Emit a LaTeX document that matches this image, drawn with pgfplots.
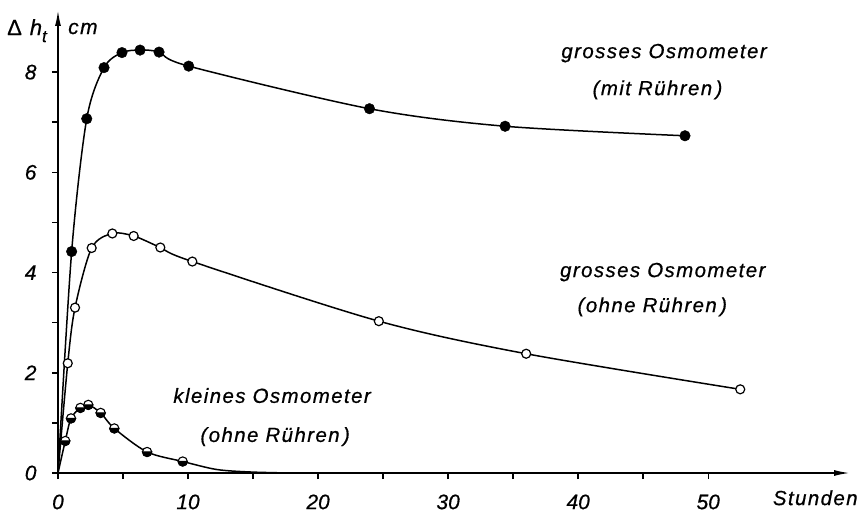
\documentclass[border=0pt]{standalone}
\usepackage{fontspec}
\setmainfont{Liberation Sans}
\newfontfamily\lab{Liberation Sans}[LetterSpace=7, FakeBold=0.6]
\newfontfamily\tickf{Liberation Sans}[FakeBold=0.6]
\usepackage{pgfplots}
\pgfplotsset{compat=1.18}
\usetikzlibrary{arrows.meta}
\pgfdeclareplotmark{lowhalf}{%
  \pgfpathcircle{\pgfpointorigin}{\pgfplotmarksize}%
  \pgfsetfillcolor{white}\pgfusepathqfillstroke
  \pgfpathmoveto{\pgfqpoint{\pgfplotmarksize}{0pt}}%
  \pgfpatharc{0}{-180}{\pgfplotmarksize}%
  \pgfpathclose
  \pgfsetfillcolor{black}\pgfusepathqfillstroke
}
\begin{document}
\begin{tikzpicture}
\begin{axis}[
  anchor=origin, at={(0,0)},
  scale only axis, width=792bp, height=463bp,
  xmin=0, xmax=60.9, ymin=0, ymax=9.24,
  axis lines=left,
  axis line style={line width=1.7bp, -{Latex[length=16bp,width=6bp]}},
  xtick={0,10,20,30,40,50}, ytick={0,2,4,6,8},
  minor xtick={5,15,25,35,45}, minor ytick={1,3,5,7},
  tick align=outside,
  major tick length=6bp, minor tick length=6bp,
  tick style={line width=1.5bp, black},
  /pgf/number format/assume math mode=true,
  ticklabel style={font=\fontsize{21}{21}\tickf\itshape},
  xticklabel style={yshift=-12bp},
  yticklabel style={xshift=-12bp},
  clip=false,
]
% grosses Osmometer (mit Ruehren)
\addplot[line width=1.5bp, smooth, tension=0.5] coordinates {
 (0,0) (1.05,4.42) (2.21,7.07) (3.54,8.09) (4.92,8.39) (6.31,8.44) (7.77,8.40)
 (10.05,8.12) (23.95,7.27) (34.38,6.92) (48.21,6.73)};
\addplot[only marks, mark=*, mark size=5.3bp, mark options={fill=black}] coordinates {
 (1.05,4.42) (2.21,7.07) (3.54,8.09) (4.92,8.39) (6.31,8.44) (7.77,8.40)
 (10.05,8.12) (23.95,7.27) (34.38,6.92) (48.21,6.73)};
% grosses Osmometer (ohne Ruehren)
\addplot[line width=1.5bp, smooth, tension=0.5] coordinates {
 (0,0) (0.75,2.19) (1.31,3.30) (2.59,4.49) (4.18,4.78) (5.82,4.73) (7.87,4.50)
 (10.33,4.22) (24.67,3.03) (36.0,2.38) (52.46,1.67)};
\addplot[only marks, mark=*, mark size=4.5bp, mark options={fill=white, line width=1.2bp}] coordinates {
 (0.75,2.19) (1.31,3.30) (2.59,4.49) (4.18,4.78) (5.82,4.73) (7.87,4.50)
 (10.33,4.22) (24.67,3.03) (36.0,2.38) (52.46,1.67)};
% kleines Osmometer (ohne Ruehren)
\addplot[line width=1.5bp, smooth, tension=0.5] coordinates {
 (0,0) (0.56,0.64) (1.0,1.09) (1.72,1.30) (2.33,1.36) (3.28,1.20) (4.33,0.89)
 (6.85,0.42) (9.59,0.23) (12.2,0.07) (14.8,0.02) (17.8,0)};
\addplot[only marks, mark=lowhalf, mark size=4.6bp, mark options={line width=1.1bp}] coordinates {
 (0.56,0.64) (1.0,1.09) (1.72,1.30) (2.33,1.36) (3.28,1.20) (4.33,0.89)
 (6.85,0.42) (9.59,0.23)};
% labels
\node[anchor=base, font=\fontsize{20.5}{20.5}\lab\itshape] at (axis cs:46.6,8.28) {grosses Osmometer};
\node[anchor=base, font=\fontsize{20.5}{20.5}\lab\itshape] at (axis cs:46.1,7.54) {(mit Rühren\,)};
\node[anchor=base, font=\fontsize{20.5}{20.5}\lab\itshape] at (axis cs:46.5,3.91) {grosses Osmometer};
\node[anchor=base, font=\fontsize{20.5}{20.5}\lab\itshape] at (axis cs:45.7,3.21) {(ohne Rühren\,)};
\node[anchor=base, font=\fontsize{20.5}{20.5}\lab\itshape] at (axis cs:16.46,1.40) {kleines Osmometer};
\node[anchor=base, font=\fontsize{20.5}{20.5}\lab\itshape] at (axis cs:16.7,0.62) {(ohne Rühren\,)};
\node[anchor=base east, inner sep=0pt, font=\fontsize{20.5}{20.5}\lab\itshape] at (axis cs:61.5,-0.64) {Stunden};
\node[anchor=base west, inner sep=0pt, font=\fontsize{22}{22}\tickf] at (axis cs:-3.92,8.74) {Δ\hspace{8bp}\itshape h\raisebox{-7bp}{\fontsize{17}{17}\selectfont t}};
\node[anchor=base west, inner sep=0pt, font=\fontsize{21}{21}\lab\itshape] at (axis cs:0.77,8.76) {cm};
\end{axis}
\path[use as bounding box] (-58bp,-43bp) rectangle (800bp,473bp);
\end{tikzpicture}
\end{document}
